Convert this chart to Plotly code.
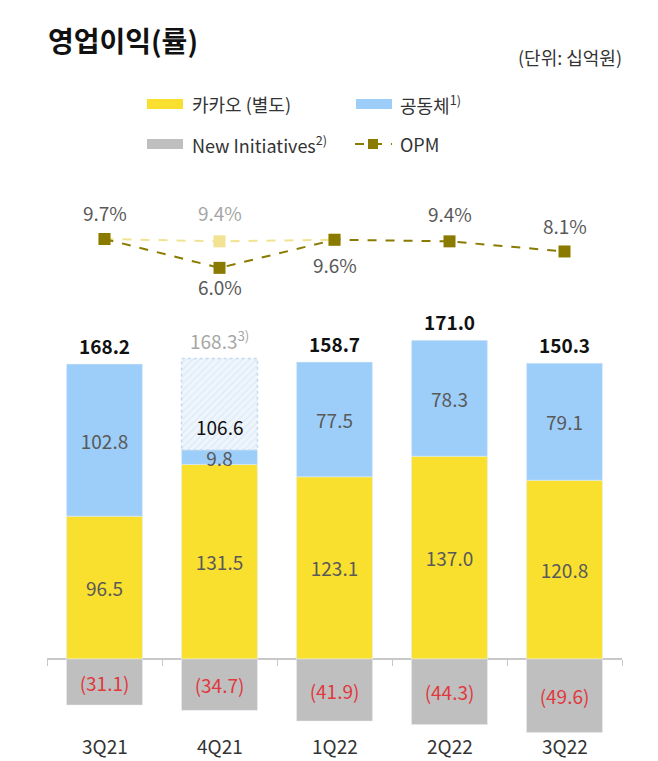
import plotly.graph_objects as go

quarters = ["3Q21", "4Q21", "1Q22", "2Q22", "3Q22"]
kakao = [96.5, 131.5, 123.1, 137.0, 120.8]
gongdong = [102.8, 9.8, 77.5, 78.3, 79.1]
new_init = [-31.1, -34.7, -41.9, -44.3, -49.6]
totals = [168.2, 168.3, 158.7, 171.0, 150.3]
opm = [9.7, 6.0, 9.6, 9.4, 8.1]
opm_adj_4q21 = 9.4
gongdong_adj_label_4q21 = 106.6

# page has an 8px body margin: draw a figure that fills the rest of the window
OFF = 8
W, H = 658 - OFF, 761 - OFF
def px(p): return (p - OFF) / W
def py(p): return 1 - (p - OFF) / H

FONT = "Noto Sans CJK KR"
YEL = "#F9E02F"
BLUE = "#9DCEFA"
GRAY = "#BFBFBF"
OLIVE = "#8A7B00"
PALE = "#F1E391"
TXT = "#595959"
RED = "#E0393E"

hatch_h = totals[1] - kakao[1] - gongdong[1] - new_init[1]
hatch_vals = [None, hatch_h, None, None, None]
pos_top = [k + g for k, g in zip(kakao, gongdong)]
pos_top[1] += hatch_h

fig = go.Figure()
fig.add_bar(x=quarters, y=kakao, marker_color=YEL, name="카카오 (별도)",
            text=[f"{v:.1f}" for v in kakao], textposition="inside",
            insidetextanchor="middle", textangle=0,
            textfont=dict(color=TXT, size=19, family=FONT))
fig.add_bar(x=quarters, y=gongdong, marker_color=BLUE, name="공동체",
            text=[f"{v:.1f}" for v in gongdong], textposition="inside",
            insidetextanchor="middle", textangle=0,
            textfont=dict(color=TXT, size=19, family=FONT))
fig.add_bar(x=quarters, y=hatch_vals, name="공동체 (조정)",
            marker=dict(color="#EEF5FC",
                        pattern=dict(shape="/", fgcolor="#C9DFF3", bgcolor="#EEF5FC",
                                     size=5, solidity=0.25),
                        line=dict(width=0)),
            textposition="none")
fig.add_bar(x=quarters, y=new_init, marker_color=GRAY, name="New Initiatives",
            text=[f"({abs(v):.1f})" for v in new_init], textposition="inside",
            insidetextanchor="middle", textangle=0,
            textfont=dict(color=RED, size=19, family=FONT))

fig.add_scatter(x=[quarters[0], quarters[1], quarters[2]],
                y=[opm[0], opm_adj_4q21, opm[2]], yaxis="y2", mode="lines+markers",
                line=dict(color=PALE, dash="dash", width=2),
                marker=dict(symbol="square", size=12, color=PALE), showlegend=False)
fig.add_scatter(x=quarters, y=opm, yaxis="y2", mode="lines+markers", name="OPM",
                line=dict(color=OLIVE, dash="dash", width=2),
                marker=dict(symbol="square", size=12, color=OLIVE))

fig.add_shape(type="rect", xref="x", yref="y",
              x0=1 - 0.33, x1=1 + 0.33, y0=kakao[1] + gongdong[1], y1=pos_top[1],
              line=dict(color="#C3D9EE", width=1.5, dash="dot"), layer="above")

ann = []
ann.append(dict(x=quarters[1], y=kakao[1] + gongdong[1] + hatch_h / 2, xref="x", yref="y",
                text=f"{gongdong_adj_label_4q21:.1f}", showarrow=False, yanchor="middle",
                yshift=-22, font=dict(size=19, color="#111111", family=FONT)))
for i, q in enumerate(quarters):
    if i == 1:
        t = f"{totals[i]:.1f}<sup>3)</sup>"
        c = "#A6A6A6"
    else:
        t = f"<b>{totals[i]:.1f}</b>"
        c = "#111111"
    ann.append(dict(x=q, y=pos_top[i], xref="x", yref="y", text=t, showarrow=False,
                    yanchor="bottom", yshift=3,
                    font=dict(size=19, color=c, family=FONT)))
opm_shift = [27, -19, -25, 28, 26]
for i, q in enumerate(quarters):
    ann.append(dict(x=q, y=opm[i], xref="x", yref="y2", text=f"{opm[i]:.1f}%",
                    showarrow=False, yanchor="middle", yshift=opm_shift[i],
                    font=dict(size=19, color=TXT, family=FONT)))
ann.append(dict(x=quarters[1], y=opm_adj_4q21, xref="x", yref="y2",
                text=f"{opm_adj_4q21:.1f}%", showarrow=False, yanchor="middle", yshift=29,
                font=dict(size=19, color="#A6A6A6", family=FONT)))
for q in quarters:
    ann.append(dict(x=q, y=py(745), xref="x", yref="paper", text=q, showarrow=False,
                    yanchor="middle", font=dict(size=19, color="#333333", family=FONT)))
ann.append(dict(x=px(46), y=py(40), xref="paper", yref="paper", text="<b>영업이익(률)</b>",
                showarrow=False, xanchor="left", yanchor="middle",
                font=dict(size=28, color="#111111", family=FONT)))
ann.append(dict(x=px(624), y=py(57), xref="paper", yref="paper", text="(단위: 십억원)",
                showarrow=False, xanchor="right", yanchor="middle",
                font=dict(size=18, color="#333333", family=FONT)))
leg = [("카카오 (별도)", 190, 104), ("공동체<sup>1)</sup>", 398, 104),
       ("New Initiatives<sup>2)</sup>", 190, 144), ("OPM", 398, 144)]
for t, x, y in leg:
    ann.append(dict(x=px(x), y=py(y), xref="paper", yref="paper", text=t, showarrow=False,
                    xanchor="left", yanchor="middle",
                    font=dict(size=18, color="#333333", family=FONT)))

shapes = []
for col, x0, y in [(YEL, 147, 104), (BLUE, 356, 104), (GRAY, 147, 144)]:
    shapes.append(dict(type="rect", xref="paper", yref="paper", x0=px(x0), x1=px(x0 + 36),
                       y0=py(y + 5), y1=py(y - 5), fillcolor=col, line=dict(width=0)))
shapes.append(dict(type="line", xref="paper", yref="paper", x0=px(355), x1=px(392),
                   y0=py(144), y1=py(144), line=dict(color=OLIVE, width=2, dash="dash")))
shapes.append(dict(type="rect", xref="paper", yref="paper", x0=px(368), x1=px(378),
                   y0=py(149), y1=py(139), fillcolor=OLIVE, line=dict(width=0)))
for s in shapes:
    fig.add_shape(**s)

base_px, k = 659, 1.48
top_px, bot_px = 300, 745
fig.update_layout(
    width=W, height=H, margin=dict(l=0, r=0, t=0, b=0),
    paper_bgcolor="white", plot_bgcolor="white",
    barmode="relative", bargap=0.34, showlegend=False,
    uniformtext=dict(minsize=19, mode="show"),
    font=dict(family=FONT),
    xaxis=dict(domain=[px(47), px(622)], type="category", range=[-0.5, 4.5],
               anchor="free", position=py(base_px), showline=True, linecolor="#C8C8C8",
               linewidth=1.5, ticks="outside", tickson="boundaries", ticklen=6,
               tickcolor="#C8C8C8", showticklabels=False, showgrid=False,
               layer="below traces"),
    yaxis=dict(domain=[py(bot_px), py(top_px)],
               range=[-(bot_px - base_px) / k, (base_px - top_px) / k],
               visible=False, showgrid=False, zeroline=False),
    yaxis2=dict(domain=[py(300), py(200)], range=[9.7 - 61 / 7.8, 9.7 + 39 / 7.8],
                visible=False, showgrid=False, zeroline=False, anchor="x"),
    annotations=ann,
)
fig.write_html("out.html")
